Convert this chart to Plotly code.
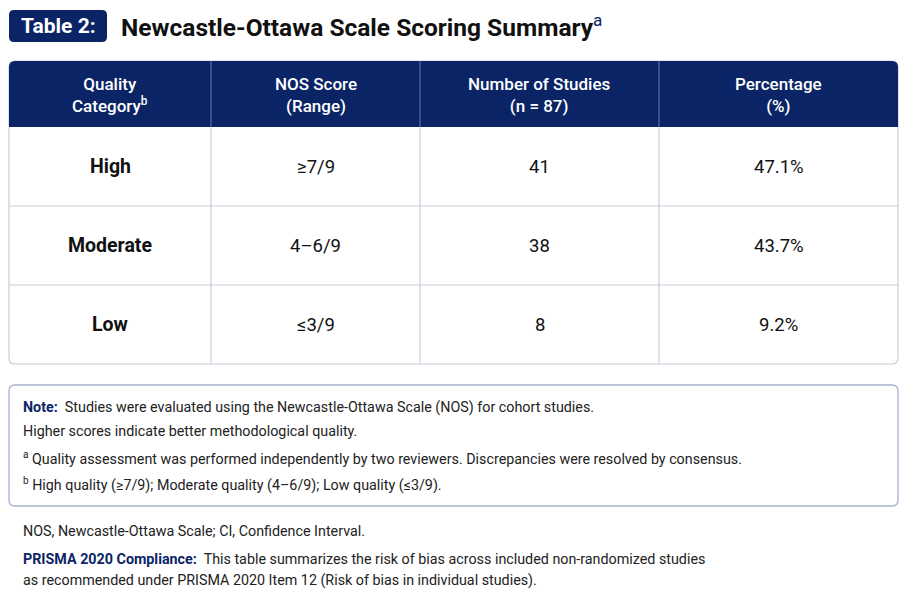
import plotly.graph_objects as go

# table data
categories = ["High", "Moderate", "Low"]
nos_range = ["≥7/9", "4–6/9", "≤3/9"]
n_studies = [41, 38, 8]
percent = [47.1, 43.7, 9.2]
headers = ["Quality<br>Category<sup>b</sup>", "NOS Score<br>(Range)",
           "Number of Studies<br>(n = 87)", "Percentage<br>(%)"]

note_lines = [
    "<b><span style='color:#0b2566'>Note:</span></b>  Studies were evaluated using the Newcastle-Ottawa Scale (NOS) for cohort studies.",
    "Higher scores indicate better methodological quality.",
    "<sup>a</sup> Quality assessment was performed independently by two reviewers. Discrepancies were resolved by consensus.",
    "<sup>b</sup> High quality (≥7/9); Moderate quality (4–6/9); Low quality (≤3/9).",
]
footer_lines = [
    "NOS, Newcastle-Ottawa Scale; CI, Confidence Interval.",
    "<b><span style='color:#0b2566'>PRISMA 2020 Compliance:</span></b>  This table summarizes the risk of bias across included non-randomized studies",
    "as recommended under PRISMA 2020 Item 12 (Risk of bias in individual studies).",
]

NAVY = "#0a2466"
GRID = "#c9cedb"
FONT = "Roboto"

W, H = 908, 605
PAD = 8  # page body margin, compensate so coords match window pixels
col_edges = [9, 211, 420, 659, 898]
table_top, header_h, row_h = 61, 66, 79


def rounded_rect(x0, y0, x1, y1, r, top_only=False):
    # svg path for a rounded rectangle (y grows downward on our axis)
    if top_only:
        return (f"M{x0},{y1} L{x0},{y0+r} Q{x0},{y0} {x0+r},{y0} L{x1-r},{y0} "
                f"Q{x1},{y0} {x1},{y0+r} L{x1},{y1} Z")
    return (f"M{x0+r},{y0} L{x1-r},{y0} Q{x1},{y0} {x1},{y0+r} L{x1},{y1-r} "
            f"Q{x1},{y1} {x1-r},{y1} L{x0+r},{y1} Q{x0},{y1} {x0},{y1-r} "
            f"L{x0},{y0+r} Q{x0},{y0} {x0+r},{y0} Z")


fig = go.Figure()
shapes = []
annotations = []

# title badge
shapes.append(dict(type="path", path=rounded_rect(9, 10, 107, 42, 5),
                   fillcolor=NAVY, line=dict(width=0)))
annotations.append(dict(x=58, y=26, text="<b>Table 2:</b>", showarrow=False,
                        font=dict(size=21, color="white", family=FONT)))
annotations.append(dict(x=119, y=26, xanchor="left",
                        text="<b>Newcastle-Ottawa Scale Scoring Summary</b><sup><span style='color:#0b2566'>a</span></sup>",
                        showarrow=False, font=dict(size=24.5, color="#111111", family=FONT)))

n_rows = len(categories)
table_bottom = table_top + header_h + n_rows * row_h

# table body outline + header
shapes.append(dict(type="path", path=rounded_rect(col_edges[0], table_top, col_edges[-1], table_bottom, 6),
                   fillcolor="white", line=dict(color=GRID, width=1.2)))
shapes.append(dict(type="path",
                   path=rounded_rect(col_edges[0], table_top, col_edges[-1], table_top + header_h, 6, top_only=True),
                   fillcolor=NAVY, line=dict(width=0)))

# grid lines
for i in range(1, n_rows):
    y = table_top + header_h + i * row_h
    shapes.append(dict(type="line", x0=col_edges[0], x1=col_edges[-1], y0=y, y1=y,
                       line=dict(color=GRID, width=1.2)))
for x in col_edges[1:-1]:
    shapes.append(dict(type="line", x0=x, x1=x, y0=table_top, y1=table_top + header_h,
                       line=dict(color="#6b7aa6", width=1)))
    shapes.append(dict(type="line", x0=x, x1=x, y0=table_top + header_h, y1=table_bottom,
                       line=dict(color=GRID, width=1.2)))

centers = [(col_edges[i] + col_edges[i + 1]) / 2 for i in range(len(col_edges) - 1)]

for j, h in enumerate(headers):
    annotations.append(dict(x=centers[j], y=table_top + header_h / 2 + 1, text=h, showarrow=False,
                            font=dict(size=17, color="white", family=FONT, weight=500)))

for i in range(n_rows):
    yc = table_top + header_h + (i + 0.5) * row_h
    row = [f"<b>{categories[i]}</b>", nos_range[i], str(n_studies[i]), f"{percent[i]}%"]
    for j, val in enumerate(row):
        annotations.append(dict(x=centers[j], y=yc, text=val, showarrow=False,
                                font=dict(size=19.5 if j == 0 else 18.5, color="#111111",
                                          family=FONT, weight="normal")))

# note box
shapes.append(dict(type="path", path=rounded_rect(9, 385, 898, 506, 6),
                   fillcolor="white", line=dict(color="#aab3cd", width=1.3)))
for y, t in zip([407, 431, 458, 484], note_lines):
    annotations.append(dict(x=21, y=y, xanchor="left", text=t, showarrow=False,
                            font=dict(size=14.3, color="#222222", family=FONT)))

for y, t in zip([531, 559, 580], footer_lines):
    annotations.append(dict(x=21, y=y, xanchor="left", text=t, showarrow=False,
                            font=dict(size=14.3, color="#222222", family=FONT)))

for s in shapes:
    s.setdefault("xref", "x")
    s.setdefault("yref", "y")
    s["layer"] = "below"

fig.update_layout(
    width=W - PAD, height=H - PAD,
    margin=dict(l=0, r=0, t=0, b=0),
    paper_bgcolor="white", plot_bgcolor="white",
    xaxis=dict(range=[PAD, W], visible=False, fixedrange=True),
    yaxis=dict(range=[H, PAD], visible=False, fixedrange=True),
    shapes=shapes, annotations=annotations,
    showlegend=False,
)

fig.write_html("out.html", config={"displayModeBar": False})
